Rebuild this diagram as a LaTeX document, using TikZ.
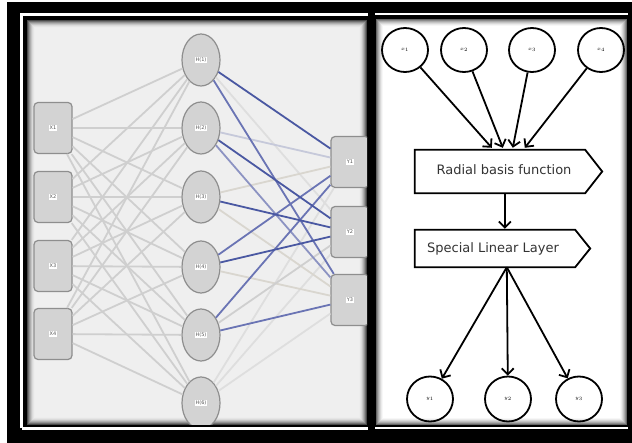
\documentclass[tikz,border=0pt]{standalone}
\usepackage{fontspec}
\setmainfont{DejaVu Sans}
\usetikzlibrary{shapes.geometric,arrows.meta,calc}
\definecolor{panelgray}{HTML}{EFEFEF}
\definecolor{nodegray}{HTML}{D3D3D3}
\definecolor{nodeedge}{HTML}{8E8E8E}
\definecolor{wgray}{HTML}{CFCFCF}
\definecolor{wfaint}{HTML}{DEDEDE}
\definecolor{wbeige}{HTML}{D9D6CF}
\definecolor{bdark}{HTML}{4A58A2}
\definecolor{bmid}{HTML}{6A74B4}
\definecolor{blight}{HTML}{8C93C2}
\definecolor{bfaint}{HTML}{C6C9DA}
\definecolor{labtext}{HTML}{555555}
\definecolor{boxtext}{HTML}{333333}
\newcommand\tinylab[1]{{\setlength{\fboxsep}{0.8pt}\colorbox{white}{\fontsize{5}{6}\selectfont\textcolor{labtext}{#1}}}}
\begin{document}
\begin{tikzpicture}[x=1pt,y=-1pt,
  inbox/.style={draw=nodeedge,fill=nodegray,line width=1.2pt,rounded corners=4pt,minimum width=38pt,minimum height=51pt,inner sep=0pt},
  hid/.style={ellipse,draw=nodeedge,fill=nodegray,line width=1.2pt,minimum width=38pt,minimum height=52pt,inner sep=0pt},
  xh/.style={wgray,line width=1.8pt},
  hy/.style={line width=1.8pt},
  rcirc/.style={ellipse,draw=black,line width=1.8pt,minimum width=46pt,minimum height=44pt,inner sep=0pt},
  arr/.style={line width=1.8pt,-{Straight Barb[length=6pt,width=12pt]}},
  pent/.style={line width=1.8pt,draw=black,fill=white},
  btext/.style={font=\fontsize{13}{15}\selectfont,text=boxtext,inner sep=0pt}]
\useasboundingbox (0,0) rectangle (632,443);
\fill[white] (0,0) rectangle (632,443);
\fill[black] (7,2) rectangle (632,443);
% white outline strokes
\draw[white,line width=2.5pt] (21.5,428.5) -- (21.5,14.5) -- (368,14.5);
\draw[white,line width=2.5pt] (21.5,428.5) -- (368,428.5);
\draw[white,line width=2pt] (375,14) -- (628,14);
\draw[white,line width=2pt] (375,428.5) -- (628,428.5);
% left panel interior with inner shadow
\fill[panelgray] (27,20) rectangle (367,425);
\foreach \i in {0,...,7}{
  \pgfmathsetmacro\p{int(70*(1-\i/8)^2)}
  \draw[black!\p!panelgray,line width=1pt] (27.5+\i,20.5+\i) rectangle (366.5-\i,424.5-\i);
}
% right panel interior with inner shadow
\fill[white] (376,19) rectangle (627,425);
\foreach \i in {0,...,7}{
  \pgfmathsetmacro\p{int(60*(1-\i/8)^2)}
  \draw[black!\p!white,line width=1pt] (376.5+\i,19.5+\i) rectangle (626.5-\i,424.5-\i);
}
% ---------- left panel ----------
\begin{scope}
\clip (27,20) rectangle (367,425);
\node[inbox] (X1) at (53,128) {\tinylab{X1}};
\node[inbox] (X2) at (53,197) {\tinylab{X2}};
\node[inbox] (X3) at (53,266) {\tinylab{X3}};
\node[inbox] (X4) at (53,334) {\tinylab{X4}};
\node[hid] (H1) at (201,60) {\tinylab{H(1)}};
\node[hid] (H2) at (201,128) {\tinylab{H(2)}};
\node[hid] (H3) at (201,197) {\tinylab{H(3)}};
\node[hid] (H4) at (201,267) {\tinylab{H(4)}};
\node[hid] (H5) at (201,335) {\tinylab{H(5)}};
\node[hid] (H6) at (201,403) {\tinylab{H(6)}};
\node[inbox] (Y1) at (350,162) {\tinylab{Y1}};
\node[inbox] (Y2) at (350,232) {\tinylab{Y2}};
\node[inbox] (Y3) at (350,300) {\tinylab{Y3}};
\foreach \i in {1,...,4}{
  \foreach \j in {1,...,6}{
    \draw[xh] (X\i) -- (H\j);
  }
}
\draw[hy,wfaint] (H1) -- (Y2);
\draw[hy,wfaint] (H6) -- (Y1);
\draw[hy,wfaint] (H6) -- (Y2);
\draw[hy,wfaint] (H6) -- (Y3);
\draw[hy,wbeige] (H3) -- (Y1);
\draw[hy,wbeige] (H3) -- (Y3);
\draw[hy,wbeige] (H4) -- (Y3);
\draw[hy,wgray] (H5) -- (Y2);
\draw[hy,bfaint] (H2) -- (Y1);
\draw[hy,blight] (H2) -- (Y3);
\draw[hy,bmid] (H1) -- (Y3);
\draw[hy,bmid] (H5) -- (Y1);
\draw[hy,bmid] (H5) -- (Y3);
\draw[hy,bmid] (H4) -- (Y1);
\draw[hy,bdark] (H3) -- (Y2);
\draw[hy,bdark] (H4) -- (Y2);
\draw[hy,bdark] (H2) -- (Y2);
\draw[hy,bdark] (H1) -- (Y1);
\end{scope}
% ---------- right panel ----------
\node[rcirc] (x1) at (405,50) {\raisebox{2pt}{\fontsize{5.5}{6}\selectfont $x_1$}};
\node[rcirc] (x2) at (464,50) {\raisebox{2pt}{\fontsize{5.5}{6}\selectfont $x_2$}};
\node[rcirc] (x3) at (532,50) {\raisebox{2pt}{\fontsize{5.5}{6}\selectfont $x_3$}};
\node[rcirc] (x4) at (601,50) {\raisebox{2pt}{\fontsize{5.5}{6}\selectfont $x_4$}};
\node[minimum width=170pt,minimum height=43pt,inner sep=0pt] (rbf) at (500,171.5) {};
\draw[pent] (rbf.north west) -- (rbf.north east) -- ([xshift=17pt]rbf.east) -- (rbf.south east) -- (rbf.south west) -- cycle;
\node[btext] (rbft) at (504,170) {Radial basis function};
\node[minimum width=160pt,minimum height=37pt,inner sep=0pt] (sll) at (495,248.5) {};
\draw[pent] (sll.north west) -- (sll.north east) -- ([xshift=15pt]sll.east) -- (sll.south east) -- (sll.south west) -- cycle;
\node[btext] (sllt) at (493,249) {Special Linear Layer};
\node[rcirc,minimum height=45pt] (y1) at (430,399) {\raisebox{2pt}{\fontsize{5.5}{6}\selectfont $y_1$}};
\node[rcirc,minimum height=45pt] (y2) at (508,399) {\raisebox{2pt}{\fontsize{5.5}{6}\selectfont $y_2$}};
\node[rcirc,minimum height=45pt] (y3) at (579,399) {\raisebox{2pt}{\fontsize{5.5}{6}\selectfont $y_3$}};
\coordinate (t1) at ($(rbf.north west)+(77,-2)$);
\coordinate (t2) at ($(rbf.north west)+(88,-2)$);
\coordinate (t3) at ($(rbf.north west)+(98,-2)$);
\coordinate (t4) at ($(rbf.north west)+(110,-2)$);
\draw[arr] (x1) -- (t1);
\draw[arr] (x2) -- (t2);
\draw[arr] (x3) -- (t3);
\draw[arr] (x4) -- (t4);
\coordinate (rb) at ($(rbf.south west)+(90,0)$);
\coordinate (st) at ($(sll.north west)+(90,-1)$);
\draw[arr] (rb) -- (st);
\coordinate (sb) at ($(sll.south west)+(92,0)$);
\draw[arr] (sb) -- (y1);
\draw[arr] (sb) -- (y2);
\draw[arr] (sb) -- (y3);
\end{tikzpicture}
\end{document}
